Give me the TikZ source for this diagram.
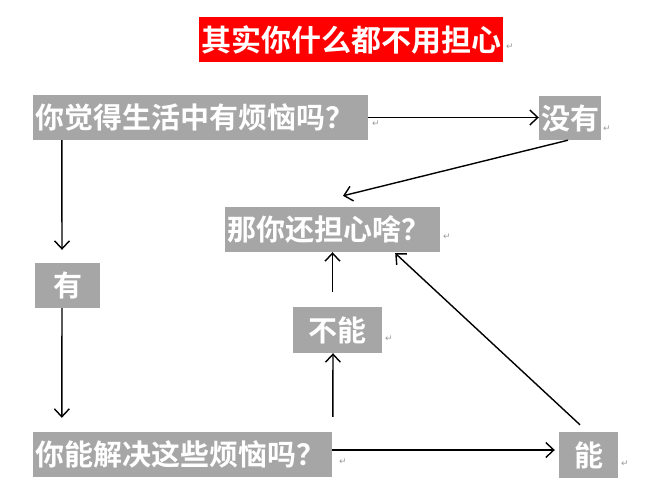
\documentclass[tikz,border=0pt]{standalone}
\usepackage{fontspec}
\newfontfamily\cjk[BoldFont={Noto Sans CJK SC Bold}]{Noto Sans CJK SC}
\newfontfamily\symfont{DejaVu Sans}
\usepackage{xcolor}
\usetikzlibrary{arrows.meta,positioning,calc}
\definecolor{boxgray}{HTML}{A6A6A6}
\definecolor{markgray}{HTML}{9A9A9A}

\begin{document}
\begin{tikzpicture}[x=1pt, y=-1pt,
   >={Straight Barb[length=8pt,width=15pt]},
   qbox/.style={fill=boxgray, text=white, inner sep=0pt, minimum height=45pt,
                font=\cjk\bfseries\fontsize{29}{31}\selectfont},
   lbox/.style={qbox, align=left, inner xsep=2pt, text width=#1},
   headline/.style={qbox, fill=red, font=\cjk\bfseries\fontsize{30}{32}\selectfont},
   ret/.style={text=markgray, inner sep=0pt, font=\symfont\fontsize{9}{9}\selectfont},
   link/.style={->, line width=1.4pt}]
  \useasboundingbox (0,0) rectangle (651,499);
  \node[headline, minimum width=304pt] (title)  at (351,39.5)   {其实你什么都不用担心};
  \node[lbox=331pt]                    (q1)     at (200.5,117.5) {你觉得生活中有烦恼吗？};
  \node[qbox, minimum width=62pt, minimum height=44pt] (meiyou) at (570,118) {没有};
  \node[lbox=211pt]                    (nani)   at (332.5,229.5) {那你还担心啥？};
  \node[qbox, minimum width=65pt]      (you)    at (67.5,285.5)  {有};
  \node[qbox, minimum width=89pt, minimum height=46pt] (buneng) at (337.5,330) {不能};
  \node[lbox=295pt]                    (q2)     at (182.5,454.5) {你能解决这些烦恼吗？};
  \node[qbox, minimum width=59pt, minimum height=46pt] (neng) at (588.5,455) {能};
  % paragraph marks
  \node[ret] (r0) at (510,47)  {↵};
  \node[ret] (r1) at (376,124) {↵};
  \node[ret] (r2) at (607,129) {↵};
  \node[ret] (r3) at (447,237) {↵};
  \node[ret] (r4) at (389,339) {↵};
  \node[ret] (r5) at (343,462) {↵};
  \node[ret] (r6) at (625,464) {↵};
  % connectors
  \draw[link] ([xshift=29pt]q1.south west) -- ([xshift=-5.5pt,yshift=13pt]you.north);
  \draw[link] ([xshift=-5.5pt]you.south) -- ([xshift=29pt,yshift=14pt]q2.north west);
  \draw[link] (q1.east) -- (q1.east -| meiyou.west);
  \draw[link] ([xshift=-2pt]meiyou.south) -- ([xshift=10.5pt,yshift=11pt]nani.north);
  \draw[link] ($(nani.south)+(0,40)$) -- (nani.south);
  \draw[link] ($(q2.north west)+(300,-15)$) -- ([xshift=-4.5pt]buneng.south);
  \draw[link] ([xshift=-8.5pt,yshift=7pt]neng.north) -- ($(nani.south east)+(-45,1)$);
  \draw[link] ($(q2.east)+(0,-4.5)$) -- ($(q2.east -| neng.west)+(-4,-4.5)$);
\end{tikzpicture}
\end{document}
